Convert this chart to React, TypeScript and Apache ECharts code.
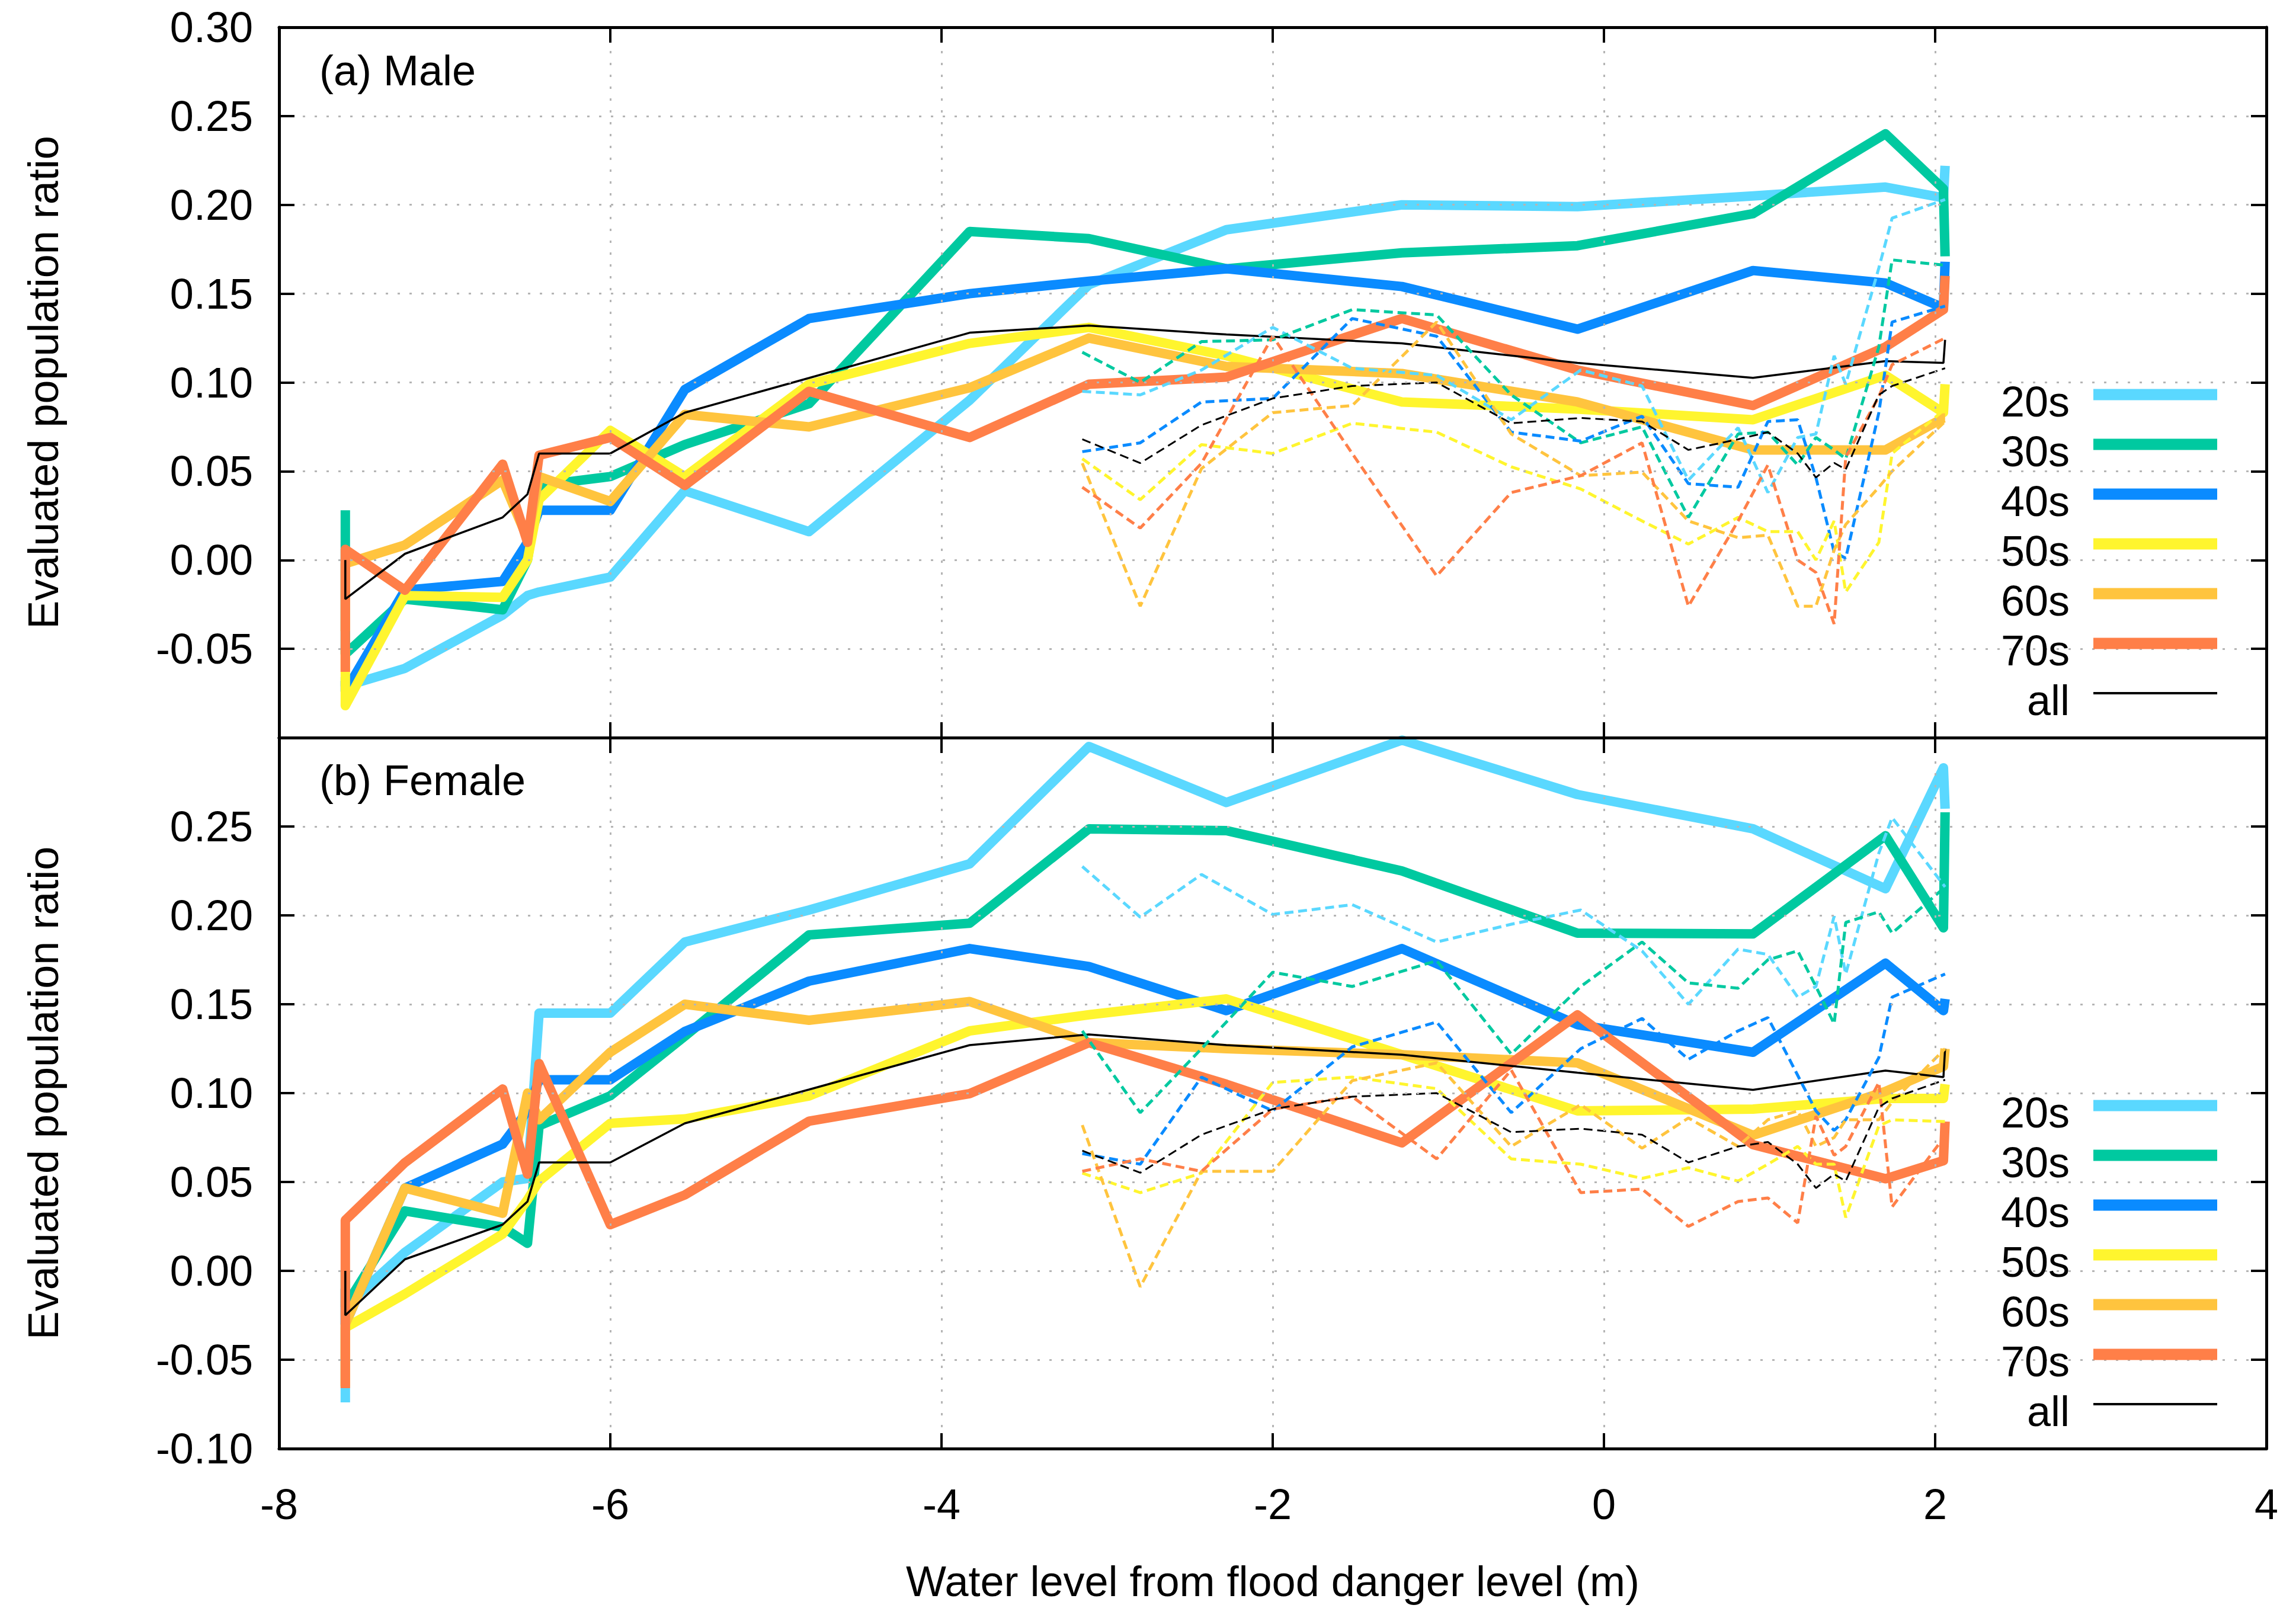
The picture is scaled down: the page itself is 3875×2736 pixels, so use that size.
import React, { useEffect, useRef } from "react";
import * as echarts from "echarts";

const AGES = ["20s", "30s", "40s", "50s", "60s", "70s"];
const COLORS = ["#5ad8ff", "#00c9a0", "#0a8bff", "#fff52e", "#ffc43e", "#ff7f48"];

const X_SOLID = [-7.6, -7.6, -7.24, -6.65, -6.5, -6.43, -6.0, -5.55, -4.8, -3.83, -3.11, -2.28, -1.22, -0.16, 0.9, 1.7, 2.05, 2.06];
const X_DASH = [-3.15, -2.8, -2.43, -2.0, -1.52, -1.01, -0.56, -0.14, 0.23, 0.51, 0.81, 0.99, 1.17, 1.28, 1.39, 1.46, 1.66, 1.74, 2.06];

const male20 = [-0.066, -0.071, -0.061, -0.031, -0.02, -0.018, -0.0096, 0.039, 0.016, 0.09, 0.155, 0.186, 0.2, 0.199, 0.205, 0.21, 0.204, 0.222];
const male30 = [0.028, -0.053, -0.022, -0.028, 0.0, 0.042, 0.047, 0.065, 0.088, 0.185, 0.181, 0.164, 0.173, 0.177, 0.195, 0.24, 0.209, 0.171];
const male40 = [-0.068, -0.074, -0.017, -0.012, 0.01, 0.028, 0.028, 0.096, 0.136, 0.15, 0.157, 0.164, 0.154, 0.13, 0.163, 0.156, 0.142, 0.168];
const male50 = [-0.05, -0.082, -0.02, -0.021, 0.0, 0.034, 0.073, 0.047, 0.099, 0.122, 0.131, 0.115, 0.089, 0.085, 0.079, 0.104, 0.083, 0.099];
const male60 = [-0.04, -0.002, 0.0085, 0.045, 0.012, 0.047, 0.033, 0.082, 0.075, 0.097, 0.125, 0.109, 0.105, 0.089, 0.062, 0.062, 0.08, 0.08];
const male70 = [-0.063, 0.006, -0.017, 0.054, 0.01, 0.059, 0.069, 0.042, 0.095, 0.069, 0.099, 0.103, 0.136, 0.107, 0.087, 0.12, 0.141, 0.16];
const maleAll = [0.0, -0.022, 0.0035, 0.024, 0.037, 0.06, 0.06, 0.083, 0.1025, 0.128, 0.132, 0.127, 0.122, 0.111, 0.1026, 0.112, 0.111, 0.124];

const fem20 = [-0.074, -0.02, 0.0104, 0.05, 0.052, 0.145, 0.145, 0.185, 0.203, 0.229, 0.295, 0.2635, 0.2986, 0.268, 0.2487, 0.215, 0.283, 0.26];
const fem30 = [0.0, -0.02, 0.0337, 0.0246, 0.0155, 0.0816, 0.0985, 0.132, 0.189, 0.1956, 0.2487, 0.2477, 0.225, 0.19, 0.1896, 0.2448, 0.193, 0.258];
const fem40 = [-0.01, -0.03, 0.0466, 0.0713, 0.09, 0.1075, 0.1075, 0.1347, 0.163, 0.1813, 0.1712, 0.1464, 0.1813, 0.1385, 0.123, 0.1731, 0.1464, 0.153];
const fem50 = [-0.065, -0.032, -0.013, 0.0207, 0.04, 0.0505, 0.083, 0.0855, 0.0984, 0.135, 0.1441, 0.153, 0.1216, 0.09, 0.091, 0.097, 0.097, 0.105];
const fem60 = [-0.065, -0.03, 0.0466, 0.0324, 0.1, 0.085, 0.123, 0.15, 0.141, 0.1515, 0.1284, 0.125, 0.1216, 0.117, 0.0763, 0.101, 0.115, 0.125];
const fem70 = [-0.066, 0.0285, 0.0609, 0.1023, 0.0544, 0.1166, 0.026, 0.0427, 0.0842, 0.0997, 0.1284, 0.105, 0.072, 0.144, 0.071, 0.0518, 0.062, 0.084];
const femAll = [0.0, -0.025, 0.0065, 0.026, 0.039, 0.061, 0.061, 0.083, 0.102, 0.127, 0.133, 0.127, 0.1216, 0.1115, 0.1018, 0.1127, 0.109, 0.125];

const maleD20 = [0.095, 0.093, 0.107, 0.131, 0.108, 0.104, 0.079, 0.107, 0.098, 0.045, 0.0745, 0.038, 0.069, 0.071, 0.115, 0.099, 0.1645, 0.1925, 0.203];
const maleD30 = [0.117, 0.1, 0.123, 0.124, 0.141, 0.138, 0.093, 0.066, 0.075, 0.024, 0.071, 0.072, 0.0535, 0.069, 0.062, 0.057, 0.12, 0.169, 0.166];
const maleD40 = [0.061, 0.066, 0.089, 0.091, 0.136, 0.126, 0.072, 0.067, 0.081, 0.043, 0.041, 0.078, 0.079, 0.0465, 0.0044, 0.001, 0.083, 0.134, 0.143];
const maleD50 = [0.057, 0.034, 0.065, 0.06, 0.077, 0.072, 0.0525, 0.04, 0.022, 0.009, 0.024, 0.016, 0.016, 0.0, 0.022, -0.018, 0.01, 0.06, 0.085];
const maleD60 = [0.0545, -0.026, 0.0515, 0.083, 0.087, 0.134, 0.071, 0.0475, 0.0495, 0.022, 0.0126, 0.014, -0.026, -0.026, 0.0056, 0.02, 0.041, 0.05, 0.078];
const maleD70 = [0.041, 0.018, 0.0545, 0.126, 0.06, -0.009, 0.038, 0.0475, 0.066, -0.026, 0.022, 0.0535, 0.0, -0.007, -0.036, 0.058, 0.092, 0.11, 0.125];
const maleDAll = [0.068, 0.0546, 0.076, 0.091, 0.098, 0.1, 0.077, 0.08, 0.078, 0.062, 0.068, 0.072, 0.06, 0.0465, 0.0547, 0.051, 0.093, 0.098, 0.108];

const femD20 = [0.2275, 0.199, 0.223, 0.2005, 0.206, 0.185, 0.195, 0.203, 0.18, 0.15, 0.181, 0.178, 0.154, 0.16, 0.1995, 0.167, 0.235, 0.255, 0.216];
const femD30 = [0.135, 0.089, 0.125, 0.168, 0.16, 0.1745, 0.122, 0.16, 0.185, 0.162, 0.159, 0.175, 0.18, 0.16, 0.139, 0.196, 0.202, 0.19, 0.216];
const femD40 = [0.066, 0.06, 0.109, 0.09, 0.126, 0.14, 0.089, 0.125, 0.142, 0.119, 0.135, 0.1425, 0.11, 0.09, 0.079, 0.085, 0.12, 0.154, 0.167];
const femD50 = [0.055, 0.044, 0.055, 0.106, 0.109, 0.1025, 0.063, 0.06, 0.052, 0.058, 0.0505, 0.06, 0.07, 0.06, 0.06, 0.03, 0.0816, 0.085, 0.084];
const femD60 = [0.082, -0.009, 0.056, 0.056, 0.107, 0.117, 0.07, 0.0935, 0.069, 0.086, 0.07, 0.085, 0.09, 0.07, 0.075, 0.085, 0.085, 0.095, 0.125];
const femD70 = [0.056, 0.063, 0.056, 0.091, 0.098, 0.063, 0.113, 0.044, 0.046, 0.025, 0.039, 0.041, 0.027, 0.087, 0.065, 0.07, 0.106, 0.036, 0.076];
const femDAll = [0.0676, 0.0552, 0.0766, 0.091, 0.098, 0.1, 0.078, 0.08, 0.0766, 0.061, 0.07, 0.0725, 0.06, 0.0466, 0.0544, 0.0505, 0.092, 0.097, 0.1075];

const MALE_SOLID = [male20, male30, male40, male50, male60, male70];
const FEM_SOLID = [fem20, fem30, fem40, fem50, fem60, fem70];
const MALE_DASH = [maleD20, maleD30, maleD40, maleD50, maleD60, maleD70];
const FEM_DASH = [femD20, femD30, femD40, femD50, femD60, femD70];

const X_TICKS = { min: -8, max: 4, interval: 2 };
const Y_TICKS = { min: -0.1, max: 0.3, interval: 0.05 };
const PANEL_LABELS = ["(a) Male", "(b) Female"];
const X_TITLE = "Water level from flood danger level (m)";
const Y_TITLE = "Evaluated population ratio";

const FONT = "'Liberation Sans', Arial, Helvetica, sans-serif";
const FS = 72;

const GRID_LEFT = 471;
const GRID_WIDTH = 3354;
const GRIDS = [
  { top: 46, height: 1199 },
  { top: 1245, height: 1200 },
];

function pairs(xs: number[], ys: number[]) {
  return xs.map((x, i) => [x, ys[i]]);
}

export default function App() {
  const ref = useRef<HTMLDivElement>(null);
  useEffect(() => {
    if (!ref.current) return;
    const chart = echarts.init(ref.current, null, { renderer: "svg" });

    const splitStyle = { show: true, lineStyle: { color: "#b5b5b5", width: 3, type: [4, 16] } };
    const tick = { show: true, inside: true, length: 26, lineStyle: { color: "#000", width: 4 } };
    const line = { show: true, onZero: false, lineStyle: { color: "#000", width: 5 } };
    const labelStyle = { color: "#000", fontSize: FS, fontFamily: FONT };

    const xAxis: any[] = [];
    const yAxis: any[] = [];
    GRIDS.forEach((_, g) => {
      xAxis.push({
        gridIndex: g, type: "value", ...X_TICKS, position: "bottom",
        axisLine: line, axisTick: tick, splitLine: splitStyle,
        axisLabel: g === 1 ? { ...labelStyle, margin: 58 } : { show: false },
        name: g === 1 ? X_TITLE : "", nameLocation: "middle", nameGap: 188,
        nameTextStyle: { ...labelStyle },
        z: 5,
      });
      xAxis.push({
        gridIndex: g, type: "value", ...X_TICKS, position: "top",
        axisLine: line, axisTick: tick, splitLine: { show: false }, axisLabel: { show: false },
        z: 5,
      });
      yAxis.push({
        gridIndex: g, type: "value", ...Y_TICKS, position: "left",
        axisLine: line, axisTick: tick, splitLine: splitStyle,
        axisLabel: {
          ...labelStyle, margin: 44,
          formatter: (v: number) => {
            if (g === 0 && v < -0.09) return "";
            if (g === 1 && v > 0.29) return "";
            return v.toFixed(2);
          },
        },
        name: Y_TITLE, nameLocation: "middle", nameGap: 362, nameTextStyle: { ...labelStyle },
        z: 5,
      });
      yAxis.push({
        gridIndex: g, type: "value", ...Y_TICKS, position: "right",
        axisLine: line, axisTick: tick, splitLine: { show: false }, axisLabel: { show: false },
        z: 5,
      });
    });

    const series: any[] = [];
    [
      [MALE_SOLID, maleAll, MALE_DASH, maleDAll],
      [FEM_SOLID, femAll, FEM_DASH, femDAll],
    ].forEach(([solid, all, dash, dall]: any, g) => {
      const axes = { xAxisIndex: g * 2, yAxisIndex: g * 2 };
      (solid as number[][]).forEach((vals, i) => {
        series.push({
          type: "line", name: AGES[i], ...axes, data: pairs(X_SOLID, vals), symbol: "none",
          lineStyle: { color: COLORS[i], width: 16, join: "round", cap: "butt" },
          z: 2,
        });
      });
      series.push({
        type: "line", name: "all", ...axes, data: pairs(X_SOLID, all), symbol: "none",
        lineStyle: { color: "#000", width: 3.5 }, z: 3,
      });
      (dash as number[][]).forEach((vals, i) => {
        series.push({
          type: "line", name: AGES[i] + " (dashed)", ...axes, data: pairs(X_DASH, vals), symbol: "none",
          lineStyle: { color: COLORS[i], width: 5, type: [15, 8] }, z: 4,
        });
      });
      series.push({
        type: "line", name: "all (dashed)", ...axes, data: pairs(X_DASH, dall), symbol: "none",
        lineStyle: { color: "#000", width: 3, type: [15, 8] }, z: 4,
      });
    });

    const graphic: any[] = [];
    const legendStarts = [666, 1866];
    const legendNames = [...AGES, "all"];
    const legendColors = [...COLORS, "#000"];
    GRIDS.forEach((gr, g) => {
      graphic.push({
        type: "text", x: 539, y: g === 0 ? 119 : 1317,
        style: { text: PANEL_LABELS[g], fill: "#000", font: `${FS}px ${FONT}`, align: "left", verticalAlign: "middle" },
        z: 10,
      });
      legendNames.forEach((nm, i) => {
        const y = legendStarts[g] + i * 84;
        graphic.push({
          type: "line", shape: { x1: 3533, y1: y, x2: 3742, y2: y },
          style: { stroke: legendColors[i], lineWidth: i === 6 ? 4 : 19 }, z: 10,
        });
        graphic.push({
          type: "text", x: 3493, y: y + 12,
          style: { text: nm, fill: "#000", font: `${FS}px ${FONT}`, align: "right", verticalAlign: "middle" },
          z: 10,
        });
      });
    });

    chart.setOption({
      animation: false,
      backgroundColor: "#fff",
      grid: GRIDS.map((gr) => ({
        left: GRID_LEFT, width: GRID_WIDTH, top: gr.top, height: gr.height,
        show: false,
      })),
      xAxis, yAxis, series, graphic,
    });
    return () => chart.dispose();
  }, []);
  return <div ref={ref} style={{ position: "fixed", left: 0, top: 0, width: "100vw", height: "100vh", background: "#fff" }} />;
}
